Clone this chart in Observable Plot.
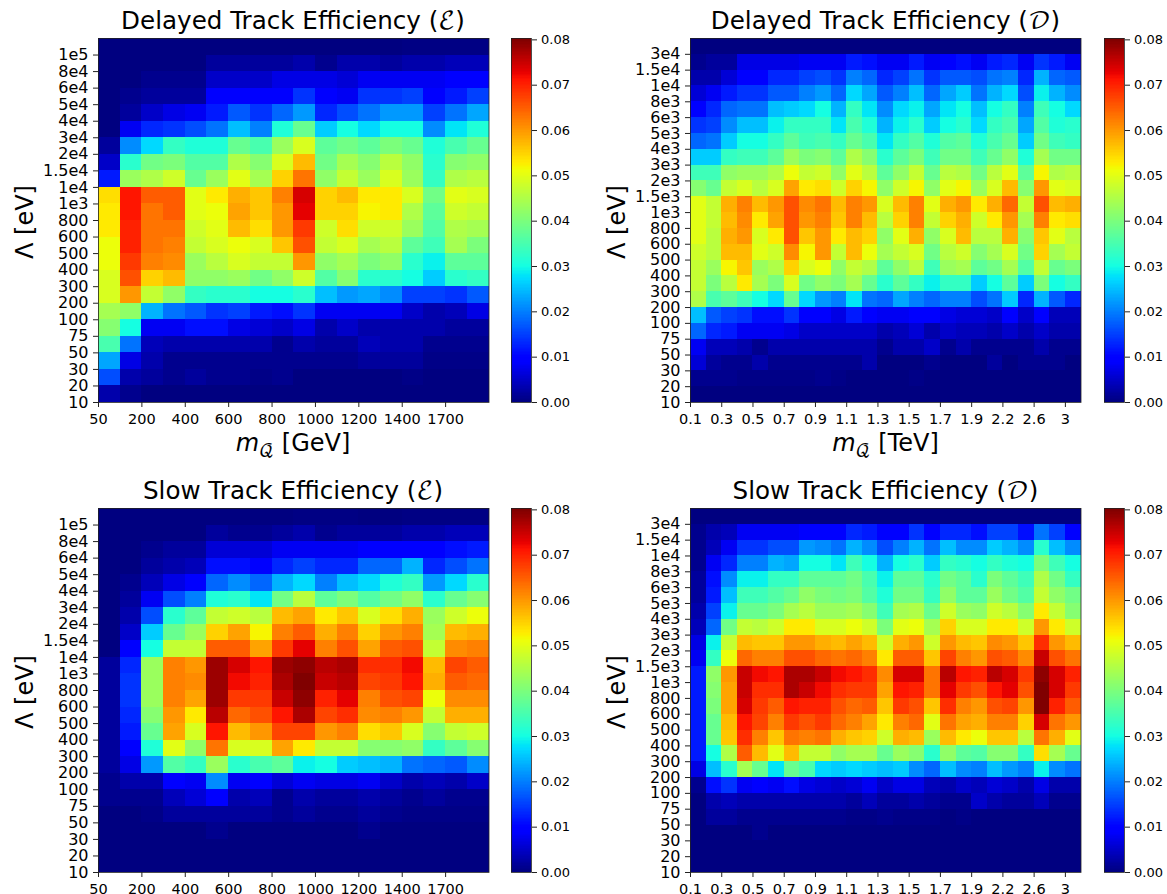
<!DOCTYPE html>
<html><head><meta charset="utf-8">
<style>
html,body{margin:0;padding:0;background:#fff;width:1167px;height:894px;overflow:hidden}
body{position:relative;font-family:"DejaVu Sans",sans-serif;color:#000}
.abs{position:absolute}
.abs svg{display:block;overflow:visible}
.t{position:absolute;white-space:nowrap;transform:translate(-50%,-50%);font-size:24px;line-height:1;font-family:"DejaVu Sans",sans-serif}
.title{font-size:24.6px}
.cal{font-family:"DejaVu Math TeX Gyre","DejaVu Sans",serif}
.yl{transform:translate(-50%,-50%) rotate(-90deg)}
.sub{font-size:18px;position:relative;top:6px;font-family:"DejaVu Math TeX Gyre","DejaVu Sans",serif}
i{font-style:oblique}
</style>
<script src="https://cdn.jsdelivr.net/npm/d3@7"></script>
<script src="https://cdn.jsdelivr.net/npm/@observablehq/plot@0.6"></script>
</head><body>
<script>
// values are efficiencies in thousandths; rows listed top to bottom, columns left to right
const xLabelsE = ["50","200","400","600","800","1000","1200","1400","1700"];
const xLabelsD = ["0.1","0.3","0.5","0.7","0.9","1.1","1.3","1.5","1.7","1.9","2.2","2.6","3"];
const yLabelsE = ["10","20","30","50","75","100","200","300","400","500","600","800","1e3","1e4","1.5e4","2e4","3e4","4e4","5e4","6e4","8e4","1e5"];
const yLabelsD = ["10","20","30","50","75","100","200","300","400","500","600","800","1e3","1.5e3","2e3","3e3","4e3","5e3","6e3","8e3","1e4","1.5e4","3e4"];
const colorTicks = [0,0.01,0.02,0.03,0.04,0.05,0.06,0.07,0.08];

const delayedE = [
[0,0,0,0,0,0,0,0,0,0,0,0,0,0,0.3,0.3,0.3,0.3],
[0,0,0,0,0,2,2,2,2,3,1,3,3,2,3,3,4,4],
[0,0,1,1,1,5,5,5,7,7,7,6,8,8,8,8,9,9],
[0,1,2,2,2,9,9,9,10,14,9,8,14,14,15,9,12,15],
[0,2,5,7,8,12,17,14,18,22,13,16,19,22,22,15,19,23],
[0,8,13,14,16,19,25,20,31,38,26,30,27,30,30,21,28,31],
[2,21,27,33,31,31,38,35,43,49,37,39,37,40,38,31,35,38],
[5,32,39,40,36,36,45,41,49,57,39,44,41,46,42,32,41,42],
[12,43,45,48,38,43,50,44,55,63,42,47,43,49,43,33,45,46],
[54,71,65,65,50,53,58,56,62,74,55,57,53,53,49,39,50,49],
[53,71,63,65,50,51,59,56,60,73,55,55,52,53,45,37,48,47],
[53,70,63,63,48,50,57,54,60,68,48,54,48,48,43,36,45,44],
[51,70,63,62,47,49,51,49,56,66,47,49,44,46,37,34,44,40],
[51,68,62,61,43,46,49,47,47,60,42,44,40,42,32,29,37,37],
[49,66,55,57,42,42,43,39,42,48,36,41,32,32,30,26,32,33],
[49,60,47,42,33,32,32,30,30,32,25,22,23,21,15,15,14,17],
[44,42,24,19,17,14,15,12,11,14,8,8,8,8,5,3,4,7],
[41,30,8,8,11,11,7,6,5,7,3,5,3,3,3,3,2,2],
[35,19,4,3,3,3,3,3,1,3,2,2,4,3,3,1,1,1],
[23,7,3,1,1,1,1,1,1,1,1,1,2,2,2,0.5,0.5,0.5],
[16,3,2,1,2,1,1,0.5,1,0,0,0,0,0,0.5,0,0,0],
[3,1,0,0,0,0,0,0,0,0,0,0,0,0,0,0,0,0]];

const slowE = [
[0,0,0,0,0,0,0,0,0,0.3,0.3,0.3,0,0,0.3,0.3,0.3,0.3],
[0,0,0,0,0,2,1,1,2,3,1,2,2,2,3,3,4,4],
[0,0,1,2,2,6,6,6,8,8,8,8,9,10,10,9,11,12],
[0,0,2,3,4,11,11,9,13,15,13,13,18,18,24,13,16,19],
[0,1,4,7,10,18,21,18,24,27,20,25,27,31,33,22,27,32],
[0,2,8,16,20,31,32,28,39,46,37,40,36,39,42,32,38,41],
[0,3,16,32,37,47,48,46,57,59,53,56,49,54,58,43,48,51],
[0,5,26,38,43,55,59,52,62,65,58,62,55,60,62,44,57,58],
[0,9,30,47,47,65,65,59,68,73,62,66,59,65,66,47,61,62],
[2,13,43,62,60,78,74,71,78,79,76,77,69,69,72,57,67,65],
[2,14,43,62,61,78,72,70,77,80,75,76,67,68,71,58,65,64],
[2,14,43,62,59,78,68,68,75,79,70,73,62,66,67,51,61,61],
[2,13,41,60,53,76,64,66,71,77,67,69,61,62,60,47,58,58],
[2,12,38,59,49,71,57,60,67,67,60,62,54,56,49,41,47,48],
[2,10,31,50,42,63,49,49,59,53,47,47,41,41,42,33,37,41],
[2,7,22,36,33,43,32,35,37,29,30,26,25,24,19,18,17,21],
[1,3,3,9,8,21,8,10,6,8,7,7,8,5,3,4,3,5],
[1,1,1,4,6,9,3,4,1,3,2,2,3,2,1,2,1,1],
[0,0,0.5,2,2,2,2,2,1,2,1,1,2,1,0.5,0.5,0.5,0.5],
[0,0,0,0,0,1,0,0,0,0,0,0,1,0,0,0,0,0],
[0,0,0,0,0,0,0,0,0,0,0,0,0,0,0,0,0,0],
[0,0,0,0,0,0,0,0,0,0,0,0,0,0,0,0,0,0]];

const delayedD = [
[0,0,0,0,0,0,0,0,0,0,0,0,0,0,0,0,0,0,0,0,0,0,0,0,0],
[1,2,2,7,7,7,7,8,8,8,12,11,8,8,12,8,10,11,8,12,13,8,14,12,8],
[3,3,6,10,10,13,13,15,16,14,20,18,13,15,19,14,17,17,16,19,20,13,24,18,17],
[6,8,12,14,14,17,17,20,22,18,27,23,17,20,25,18,23,26,19,24,27,16,29,24,21],
[10,13,18,19,19,25,26,27,30,24,33,28,21,27,29,23,28,30,25,30,33,20,34,30,27],
[14,15,21,25,25,29,33,33,33,28,35,31,24,29,32,26,30,32,27,33,35,23,36,31,32],
[18,19,26,30,30,33,37,34,35,33,38,35,28,33,36,31,36,37,31,35,38,26,39,34,33],
[26,26,33,34,34,37,43,40,41,37,45,41,32,37,40,34,39,39,34,38,42,31,44,39,39],
[34,34,42,43,43,45,51,47,48,42,50,46,37,42,47,38,46,45,39,46,50,37,52,45,46],
[41,38,47,49,46,49,59,53,54,48,55,52,42,48,52,42,50,52,43,49,57,41,60,50,49],
[50,47,58,62,57,60,66,61,63,57,62,60,49,57,62,50,58,60,53,58,64,47,66,57,58],
[50,47,57,61,53,59,66,60,62,56,62,57,46,55,62,47,55,58,48,53,60,44,62,53,54],
[50,46,58,60,49,53,66,56,60,53,57,55,42,50,58,42,49,57,46,46,58,41,56,50,46],
[48,46,57,57,50,48,61,52,60,47,57,51,44,47,49,39,46,48,41,44,49,39,55,44,47],
[47,43,52,56,43,45,55,49,51,42,47,45,37,42,46,34,43,44,37,39,44,36,47,38,40],
[47,40,46,53,44,40,49,39,42,40,44,38,32,37,33,29,33,33,26,30,37,26,40,30,33],
[45,35,37,34,30,27,38,27,22,20,28,19,18,23,20,18,20,20,16,19,26,13,24,17,13],
[25,17,15,14,11,11,14,9,9,7,12,9,8,8,9,9,7,6,6,5,9,5,9,4,4],
[18,13,12,8,8,8,7,5,5,5,5,5,3,4,6,3,5,4,4,3,5,3,5,3,3],
[8,4,4,3,1,3,3,3,3,3,3,3,1,3,3,5,1,3,1,1,1,1,3,1,1],
[6,2,1,1,3,1,1,1,1,1,1,3,0,0,0,1,0,0,0,2,0,1,1,1,0],
[1,1,1,0.5,0.5,0.5,0.5,0.5,1,0.5,0,0,0,0,0.5,0,0,0,0,0,0,0,0,0,0],
[0,0,0,0,0,0,0,0,0,0,0,0,0,0,0,0,0,0,0,0,0,0,0,0,0]];

const slowD = [
[0,0,0,0,0,0,0,0,0,0,0,0,0,0,0,0,0,0,0,0,0,0,0,0,0],
[1,3,4,8,8,8,8,10,10,9,13,12,9,10,14,10,13,13,11,15,15,11,19,15,10],
[1,4,8,14,14,16,16,22,21,19,24,21,16,20,24,19,25,21,21,26,24,21,32,25,21],
[1,8,13,20,20,24,23,30,30,28,34,30,24,30,32,26,33,32,30,33,31,30,40,34,30],
[2,11,21,29,29,33,33,37,37,37,39,35,29,37,37,32,39,37,32,40,37,34,45,39,33],
[2,12,25,34,34,36,38,42,40,39,40,36,31,39,39,33,42,37,37,43,39,36,47,42,39],
[3,15,29,38,38,40,44,46,43,43,44,41,34,44,45,38,48,43,42,48,46,41,53,47,41],
[4,18,39,47,46,48,53,53,49,49,51,48,40,50,51,44,55,49,49,53,53,48,60,53,48],
[7,29,47,57,56,56,60,60,58,57,59,57,48,58,60,48,60,57,56,61,60,56,69,60,57],
[8,33,51,64,62,62,66,66,64,63,64,62,53,65,65,56,67,62,60,66,65,61,75,66,63],
[12,42,60,75,72,71,77,77,75,72,71,69,61,74,74,63,76,71,70,76,74,68,79,74,70],
[12,41,59,75,69,69,77,75,72,69,68,68,59,71,70,63,73,68,66,71,73,66,80,74,68],
[12,40,59,74,68,65,71,70,70,66,64,65,56,68,66,56,69,62,60,66,67,60,80,70,65],
[12,38,57,71,67,62,68,66,68,64,62,59,53,62,64,50,63,59,58,62,62,55,74,63,60],
[12,38,56,69,62,56,63,62,63,58,56,55,48,58,57,43,57,53,51,56,56,46,63,58,50],
[12,30,45,65,57,50,57,47,47,42,44,44,38,43,41,32,42,37,36,41,41,33,54,44,38],
[7,25,32,44,38,28,38,35,27,26,27,26,25,26,21,18,25,21,20,25,22,20,29,21,19],
[1,11,14,8,9,8,11,7,6,5,6,8,5,7,7,4,3,5,4,6,5,3,7,3,3],
[0,3,4,3,3,3,3,3,3,3,2,4,2,2,3,2,1,1,5,3,2,2,4,1,1],
[0,2,2,1,1,1,1,1,1,1,0.5,0.5,1,0.5,0.5,0.5,0,0.5,0,0,0,0,0,0,0],
[0,0,0,0,1,0,0,0,0,0,0,0,0,0,0,0,0,0,0,0,0,0,0,0,0],
[0,0,0,0,0,0,0,0,0,0,0,0,0,0,0,0,0,0,0,0,0,0,0,0,0],
[0,0,0,0,0,0,0,0,0,0,0,0,0,0,0,0,0,0,0,0,0,0,0,0,0]];

// matplotlib "jet" as piecewise-linear channels
function ramp(stops, t){
  for (let i=1;i<stops.length;i++) if (t<=stops[i][0]) {
    const [a,u]=stops[i-1],[b,v]=stops[i];
    return u+(v-u)*(t-a)/(b-a);
  }
  return stops[stops.length-1][1];
}
const R=[[0,0],[.35,0],[.66,1],[.89,1],[1,.5]], G=[[0,0],[.125,0],[.375,1],[.64,1],[.91,0],[1,0]], B=[[0,.5],[.11,1],[.34,1],[.65,0],[1,0]];
function jet(t){ t=Math.max(0,Math.min(1,t)); return d3.rgb(255*ramp(R,t),255*ramp(G,t),255*ramp(B,t)).formatRgb(); }
const colorScale = {type:"linear",domain:[0,0.08],interpolate:jet,clamp:true};
const font = {fontFamily:"DejaVu Sans",background:"transparent"};

function place(node,left,top,w){ const d=document.createElement("div"); d.className="abs"; d.style.left=left+"px"; d.style.top=top+"px"; d.style.width=w+"px"; d.appendChild(node); document.body.appendChild(d); }
function text(html,x,y,cls){ const d=document.createElement("div"); d.className="t "+(cls||""); d.style.left=x+"px"; d.style.top=y+"px"; d.innerHTML=html; document.body.appendChild(d); }

function heat(matrix,xLabels,yLabels,left,top,marginBottom){
  const nr=matrix.length,nc=matrix[0].length;
  const cells=[];
  matrix.forEach((row,r)=>row.forEach((v,c)=>cells.push({c,r:nr-1-r,v:v/1000})));
  const w=390.5,h=364;
  const plot=Plot.plot({
    width:98+w+3,height:38+h+marginBottom,marginLeft:98,marginRight:3,marginTop:38,marginBottom,
    style:font,
    x:{type:"linear",domain:[0,nc],axis:null},
    y:{type:"linear",domain:[0,nr],axis:null},
    color:colorScale,
    marks:[
      Plot.rect(cells,{x1:"c",x2:d=>d.c+1,y1:"r",y2:d=>d.r+1,fill:"v",shapeRendering:"crispEdges"}),
      Plot.frame({stroke:"#222",strokeWidth:0.8}),
      Plot.axisX({ticks:xLabels.map((_,i)=>i*2),tickFormat:d=>xLabels[d/2],label:null,fontSize:14.5,tickSize:5,tickPadding:6,stroke:"#222"}),
      Plot.axisY({ticks:yLabels.map((_,i)=>i),tickFormat:d=>yLabels[d],label:null,fontSize:16,tickSize:5,tickPadding:5,stroke:"#222"})
    ]
  });
  place(plot,left,top,98+w+3);
}

function colorbar(left,top){
  const top8=0.0803;
  const steps=d3.range(256).map(i=>({a:i/256*top8,b:(i+1)/256*top8}));
  const plot=Plot.plot({
    width:20+43,height:38+364+12,marginLeft:0,marginRight:43,marginTop:38,marginBottom:12,
    style:font,
    x:{axis:null,domain:[0,1]},
    y:{type:"linear",domain:[0,top8],axis:null},
    color:colorScale,
    marks:[
      Plot.rect(steps,{x1:0,x2:1,y1:"a",y2:"b",fill:d=>(d.a+d.b)/2,shapeRendering:"crispEdges"}),
      Plot.frame({stroke:"#222",strokeWidth:0.8}),
      Plot.axisY({anchor:"right",ticks:colorTicks,tickFormat:d=>d.toFixed(2),label:null,fontSize:13,tickSize:5,tickPadding:4.5,stroke:"#222"})
    ]
  });
  place(plot,left,top,63);
}

const topY=0, lowY=470;
heat(delayedE,xLabelsE,yLabelsE,0,topY,30);
heat(delayedD,xLabelsD,yLabelsD,592,topY,30);
heat(slowE,xLabelsE,yLabelsE,0,lowY,22);
heat(slowD,xLabelsD,yLabelsD,592,lowY,22);
colorbar(511,topY); colorbar(1104,topY); colorbar(511,lowY); colorbar(1104,lowY);

const cal=c=>`<span class="cal">${c}</span>`;
text(`Delayed Track Efficiency (${cal("ℰ")})`,293,22,"title");
text(`Delayed Track Efficiency (${cal("𝒟")})`,885.5,22,"title");
text(`Slow Track Efficiency (${cal("ℰ")})`,293,492,"title");
text(`Slow Track Efficiency (${cal("𝒟")})`,885.5,492,"title");
const ml=(u)=>`<i>m</i><span class="sub">𝒬</span> [${u}]`;
text(ml("GeV"),293,443);
text(ml("TeV"),885.5,443);
text("Λ [eV]",25,222,"yl");
text("Λ [eV]",617,222,"yl");
text("Λ [eV]",25,692,"yl");
text("Λ [eV]",617,692,"yl");
</script>
</body></html>
